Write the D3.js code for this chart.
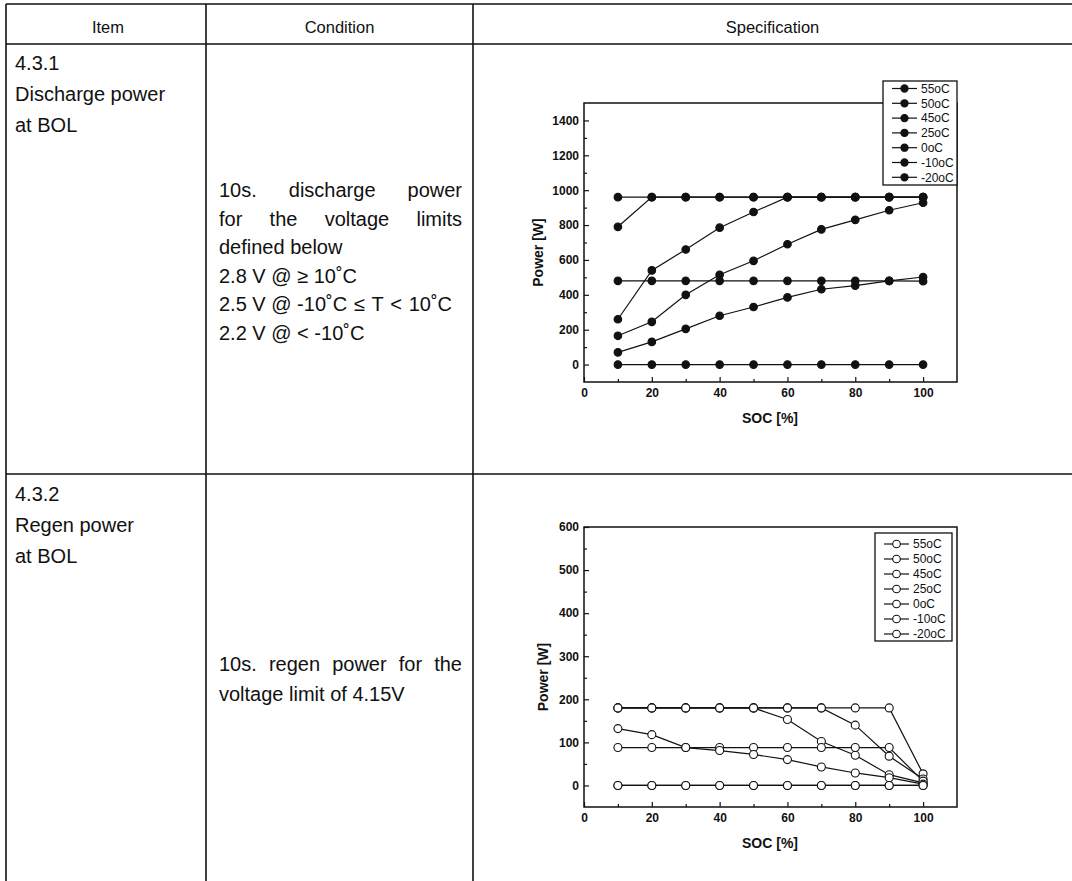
<!DOCTYPE html>
<html>
<head>
<meta charset="utf-8">
<script src="https://cdn.jsdelivr.net/npm/d3@7"></script>
<style>
  body { margin: 0; background: #fff; }
  svg { display: block; font-family: "Liberation Sans", Arial, sans-serif; }
</style>
</head>
<body>
<svg width="1072" height="881"></svg>
<script>
// SOC points shared by both charts
var soc = [10, 20, 30, 40, 50, 60, 70, 80, 90, 100];
var temps = ["55oC", "50oC", "45oC", "25oC", "0oC", "-10oC", "-20oC"];

// discharge power [W]
var dis55 = [960, 960, 960, 960, 960, 960, 960, 960, 960, 960];
var dis50 = [790, 960, 960, 960, 960, 960, 960, 960, 960, 960];
var dis45 = [260, 540, 660, 785, 875, 960, 960, 960, 960, 960];
var dis25 = [165, 245, 400, 515, 595, 690, 775, 830, 885, 928];
var dis0 = [70, 130, 205, 280, 330, 385, 432, 453, 480, 502];
var disM10 = [480, 480, 480, 480, 480, 480, 480, 480, 480, 478];
var disM20 = [0, 0, 0, 0, 0, 0, 0, 0, 0, 0];

// regen power [W]
var reg55 = [180, 180, 180, 180, 180, 180, 180, 180, 180, 27];
var reg50 = [180, 180, 180, 180, 180, 180, 180, 140, 68, 15];
var reg45 = [180, 180, 180, 180, 180, 153, 102, 70, 25, 6];
var reg25 = [88, 88, 88, 88, 88, 88, 88, 88, 88, 10];
var reg0 = [132, 118, 88, 81, 72, 60, 43, 29, 18, 3];
var regM10 = [0, 0, 0, 0, 0, 0, 0, 0, 0, 0];
var regM20 = [0, 0, 0, 0, 0, 0, 0, 0, 0, 0];

var xTicks = [0, 20, 40, 60, 80, 100];
var disTicks = [0, 200, 400, 600, 800, 1000, 1200, 1400];
var regTicks = [0, 100, 200, 300, 400, 500, 600];

var svg = d3.select("svg");
svg.append("rect").attr("width", 1072).attr("height", 881).attr("fill", "#fff");

// ---- table ----
var colX = [6, 206, 473];
var rowY = [4, 44, 474];
var tbl = svg.append("g").attr("stroke", "#111").attr("stroke-width", 1.6);
rowY.forEach(function (y) {
  tbl.append("line").attr("x1", colX[0]).attr("x2", 1072).attr("y1", y).attr("y2", y);
});
colX.forEach(function (x) {
  tbl.append("line").attr("x1", x).attr("x2", x).attr("y1", rowY[0]).attr("y2", 881);
});

var headers = ["Item", "Condition", "Specification"];
var headCx = [(colX[0] + colX[1]) / 2 + 2, (colX[1] + colX[2]) / 2, (colX[2] + 1072) / 2];
svg.selectAll(".head").data(headers).enter().append("text")
  .attr("x", function (d, i) { return headCx[i]; })
  .attr("y", 27).attr("dy", "0.35em")
  .attr("text-anchor", "middle").attr("font-size", 16.5).attr("fill", "#111")
  .text(function (d) { return d; });

function cellLines(lines, x, y0, step, width) {
  lines.forEach(function (ln, i) {
    var y = y0 + i * step;
    var txt = typeof ln === "string" ? ln : ln.t;
    if (typeof ln === "string") {
      svg.append("text").attr("x", x).attr("y", y).attr("dy", "0.35em")
        .attr("font-size", 20).attr("fill", "#111").style("white-space", "pre").text(txt);
      return;
    }
    // justified line
    var words = txt.split(" ");
    var ws = words.map(function (w) {
      var t = svg.append("text").attr("font-size", 20).text(w);
      var wd = t.node().getComputedTextLength();
      t.remove();
      return wd;
    });
    var gap = (width - d3.sum(ws)) / (words.length - 1);
    var cx = x;
    words.forEach(function (w, j) {
      svg.append("text").attr("x", cx).attr("y", y).attr("dy", "0.35em")
        .attr("font-size", 20).attr("fill", "#111").text(w);
      cx += ws[j] + gap;
    });
  });
}

cellLines(["4.3.1", "Discharge power", "at BOL"], 15, 63, 31);
cellLines([{ t: "10s. discharge power" }, { t: "for the voltage limits" }, "defined below",
  "2.8 V @ \u2265 10\u02daC", "2.5 V @ -10\u02daC\u2004\u2264\u2004T\u2004<\u200410\u02daC", "2.2 V @ < -10\u02daC"],
  219, 190, 28.6, 243);
cellLines(["4.3.2", "Regen power", "at BOL"], 15, 494, 31);
cellLines([{ t: "10s. regen power for the" }, "voltage limit of 4.15V"], 219, 664, 30, 243);

// ---- charts ----
function drawChart(o) {
  var x = d3.scaleLinear().domain([0, 110]).range([584, 957]);
  var y = d3.scaleLinear().domain(o.yDomain).range([o.bottom, o.top]);
  var g = svg.append("g");

  var yMinor = d3.range(o.minorStep, o.yDomain[1], o.minorStep * 2);
  var xMinor = [10, 30, 50, 70, 90];

  g.append("g").attr("transform", "translate(0," + o.bottom + ")")
    .call(d3.axisBottom(x).tickValues(xTicks).tickFormat(d3.format("d"))
      .tickSizeInner(-5).tickSizeOuter(0).tickPadding(6));
  g.append("g").attr("transform", "translate(0," + o.bottom + ")")
    .call(d3.axisBottom(x).tickValues(xMinor).tickSizeInner(-3).tickSizeOuter(0).tickFormat(""));
  g.append("g").attr("transform", "translate(584,0)")
    .call(d3.axisLeft(y).tickValues(o.ticks).tickFormat(d3.format("d"))
      .tickSizeInner(-5).tickSizeOuter(0).tickPadding(5));
  g.append("g").attr("transform", "translate(584,0)")
    .call(d3.axisLeft(y).tickValues(yMinor).tickSizeInner(-3).tickSizeOuter(0).tickFormat(""));
  g.selectAll(".domain").remove();
  g.selectAll(".tick line").attr("stroke", "#111").attr("stroke-width", 1.2);
  g.selectAll(".tick text").attr("font-family", "Liberation Sans, Arial, sans-serif")
    .attr("font-size", 12).attr("font-weight", "bold").attr("fill", "#111");

  g.append("rect").attr("x", 584).attr("y", o.top).attr("width", 957 - 584)
    .attr("height", o.bottom - o.top).attr("fill", "none").attr("stroke", "#111").attr("stroke-width", 1.5);

  g.append("text").attr("x", 770).attr("y", o.bottom + 36).attr("dy", "0.35em")
    .attr("text-anchor", "middle").attr("font-size", 14).attr("font-weight", "bold").attr("fill", "#111")
    .text("SOC [%]");
  g.append("text").attr("transform", "translate(" + o.titleX + "," + ((o.top + o.bottom) / 2 + 10) + ") rotate(-90)")
    .attr("dy", "0.35em").attr("text-anchor", "middle").attr("font-size", 14).attr("font-weight", "bold")
    .attr("fill", "#111").text("Power [W]");

  var line = d3.line().x(function (d, i) { return x(soc[i]); }).y(function (d) { return y(d); });
  o.series.forEach(function (s) {
    g.append("path").attr("d", line(s)).attr("fill", "none").attr("stroke", "#111").attr("stroke-width", 1.2);
  });
  o.series.forEach(function (s) {
    g.selectAll(null).data(s).enter().append("circle")
      .attr("cx", function (d, i) { return x(soc[i]); })
      .attr("cy", function (d) { return y(d); })
      .attr("r", o.filled ? 3.8 : 4)
      .attr("fill", o.filled ? "#111" : "#fff").attr("stroke", "#111").attr("stroke-width", 1.1);
  });

  // legend
  var L = o.legend;
  var lg = g.append("g");
  lg.append("rect").attr("x", L.x).attr("y", L.y).attr("width", L.w).attr("height", L.h)
    .attr("fill", "#fff").attr("stroke", "#111").attr("stroke-width", 1.3);
  temps.forEach(function (t, i) {
    var yy = L.y0 + i * L.step;
    lg.append("line").attr("x1", L.x + 9).attr("x2", L.x + 34).attr("y1", yy).attr("y2", yy)
      .attr("stroke", "#111").attr("stroke-width", 1.2);
    lg.append("circle").attr("cx", L.x + 21.5).attr("cy", yy).attr("r", o.filled ? 3.6 : 3.8)
      .attr("fill", o.filled ? "#111" : "#fff").attr("stroke", "#111").attr("stroke-width", 1.1);
    lg.append("text").attr("x", L.x + 38).attr("y", yy).attr("dy", "0.35em")
      .attr("font-size", 12).attr("fill", "#111").text(t);
  });
}

drawChart({
  yDomain: [-100, 1500], top: 103, bottom: 382, ticks: disTicks, minorStep: 100,
  titleX: 538, filled: true,
  series: [dis55, dis50, dis45, dis25, dis0, disM10, disM20],
  legend: { x: 883, y: 81, w: 74, h: 104, y0: 88.5, step: 14.8 }
});

drawChart({
  yDomain: [-50, 600], top: 527, bottom: 807, ticks: regTicks, minorStep: 50,
  titleX: 543, filled: false,
  series: [reg55, reg50, reg45, reg25, reg0, regM10, regM20],
  legend: { x: 875, y: 533, w: 77, h: 108, y0: 544, step: 15 }
});
</script>
</body>
</html>
